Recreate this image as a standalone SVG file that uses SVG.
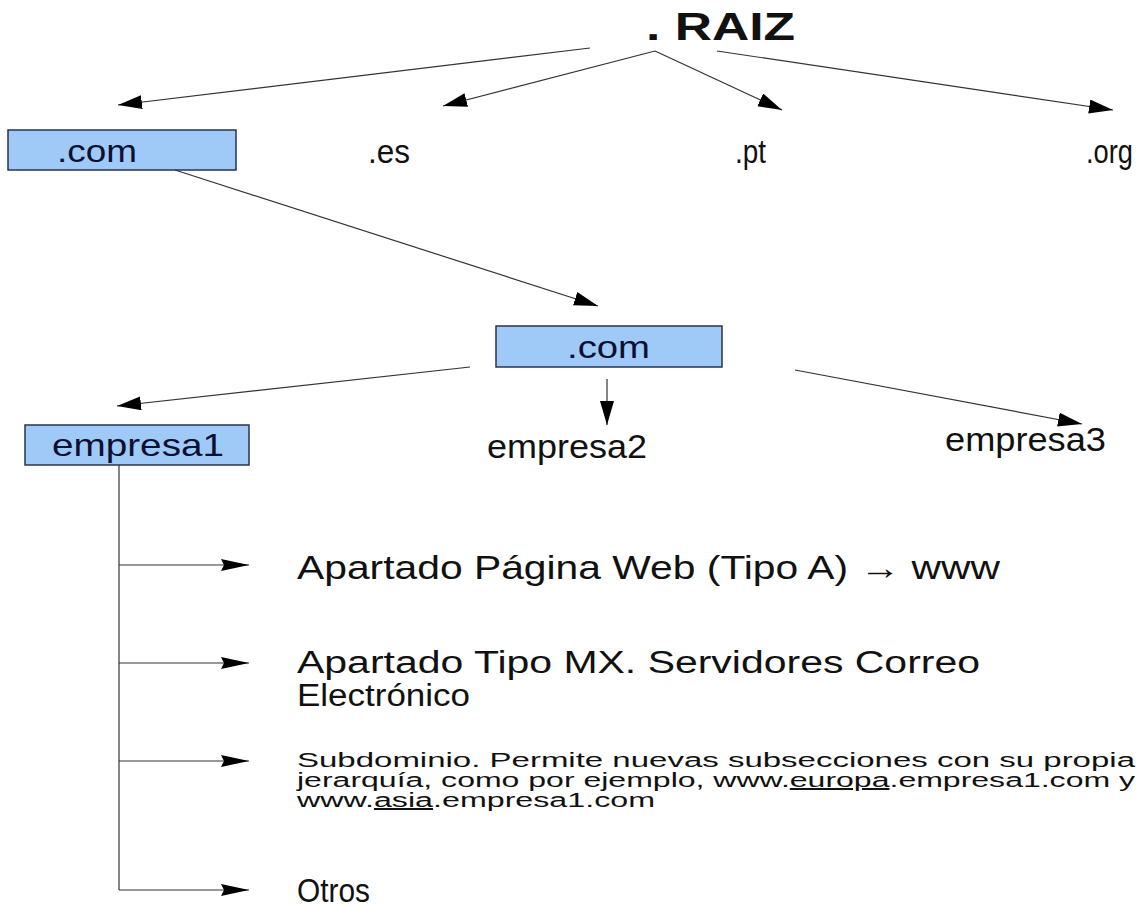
<svg xmlns="http://www.w3.org/2000/svg" width="1141" height="908" viewBox="0 0 1141 908">
<style>
text{font-family:"Liberation Sans",Arial,sans-serif;fill:#111;}
.box{fill:#9fc9f7;stroke:#2a3350;stroke-width:1.5;}
.bt{fill:#0c1030;font-size:32px;}
.t{font-size:33px;}
.m{font-size:31px;}
.s{font-size:20px;}
.c{stroke:#333;stroke-width:1.2;fill:none;marker-end:url(#ah);}
.h{stroke:#333;stroke-width:1.2;fill:none;marker-end:url(#ah2);}
.v{stroke:#333;stroke-width:1.2;fill:none;}
</style>
<defs>
<marker id="ah" markerUnits="userSpaceOnUse" markerWidth="26" markerHeight="16" refX="24" refY="7" orient="auto">
<path d="M0,0 L24,7 L0,14 z" fill="#000"/>
</marker>
<marker id="ah2" markerUnits="userSpaceOnUse" markerWidth="30" markerHeight="14" refX="28" refY="6" orient="auto">
<path d="M0,0 L28,6 L0,12 L3,6 z" fill="#000"/>
</marker>
</defs>
<g id="raiz">
<text x="646" y="40" style="font-size:38px;font-weight:bold" textLength="149" lengthAdjust="spacingAndGlyphs">.  RAIZ</text>
</g>
<g id="com1">
<rect class="box" x="8" y="130" width="228" height="40"/>
<text class="bt" x="57" y="162" textLength="80" lengthAdjust="spacingAndGlyphs">.com</text>
</g>
<g id="es"><text class="t" x="368" y="163" textLength="42" lengthAdjust="spacingAndGlyphs">.es</text></g>
<g id="pt"><text class="t" x="735" y="163" textLength="31" lengthAdjust="spacingAndGlyphs">.pt</text></g>
<g id="org"><text class="t" x="1086" y="163" textLength="47" lengthAdjust="spacingAndGlyphs">.org</text></g>
<g id="com2">
<rect class="box" x="496" y="326" width="226" height="41"/>
<text class="bt" x="567" y="358" textLength="83" lengthAdjust="spacingAndGlyphs">.com</text>
</g>
<g id="empresa1">
<rect class="box" x="25" y="425" width="224" height="40"/>
<text class="bt" x="52" y="456" textLength="172" lengthAdjust="spacingAndGlyphs">empresa1</text>
</g>
<g id="empresa2"><text class="t" x="487" y="458" textLength="160" lengthAdjust="spacingAndGlyphs">empresa2</text></g>
<g id="empresa3"><text class="t" x="945" y="451" textLength="161" lengthAdjust="spacingAndGlyphs">empresa3</text></g>
<g id="web"><text class="t" x="297" y="579" textLength="703" lengthAdjust="spacingAndGlyphs">Apartado Página Web (Tipo A) → www</text></g>
<g id="mx">
<text class="m" x="297" y="673" textLength="683" lengthAdjust="spacingAndGlyphs">Apartado Tipo MX. Servidores Correo</text>
<text class="m" x="297" y="706" textLength="173" lengthAdjust="spacingAndGlyphs">Electrónico</text>
</g>
<g id="sub">
<text class="s" x="297" y="767" textLength="838" lengthAdjust="spacingAndGlyphs">Subdominio. Permite nuevas subsecciones con su propia</text>
<text class="s" x="297" y="787" textLength="838" lengthAdjust="spacingAndGlyphs">jerarquía, como por ejemplo, www.<tspan text-decoration="underline">europa</tspan>.empresa1.com y</text>
<text class="s" x="297" y="807" textLength="358" lengthAdjust="spacingAndGlyphs">www.<tspan text-decoration="underline">asia</tspan>.empresa1.com</text>
</g>
<g id="otros"><text class="t" x="297" y="902" textLength="73" lengthAdjust="spacingAndGlyphs">Otros</text></g>
<g id="connectors">
<line class="c" x1="590" y1="48" x2="118" y2="105"/>
<line class="c" x1="655" y1="51" x2="443" y2="106"/>
<line class="c" x1="655" y1="51" x2="782" y2="110"/>
<line class="c" x1="717" y1="51" x2="1113" y2="110"/>
<line class="c" x1="175" y1="170" x2="598" y2="306"/>
<line class="c" x1="470" y1="367" x2="117" y2="406"/>
<line class="c" x1="607" y1="379" x2="607" y2="425"/>
<line class="c" x1="795" y1="370" x2="1082" y2="424"/>
<polyline class="v" points="119,465 119,890"/>
<line class="h" x1="119" y1="565" x2="249" y2="565"/>
<line class="h" x1="119" y1="663" x2="249" y2="663"/>
<line class="h" x1="119" y1="761" x2="249" y2="761"/>
<line class="h" x1="119" y1="890" x2="249" y2="890"/>
</g>
</svg>
